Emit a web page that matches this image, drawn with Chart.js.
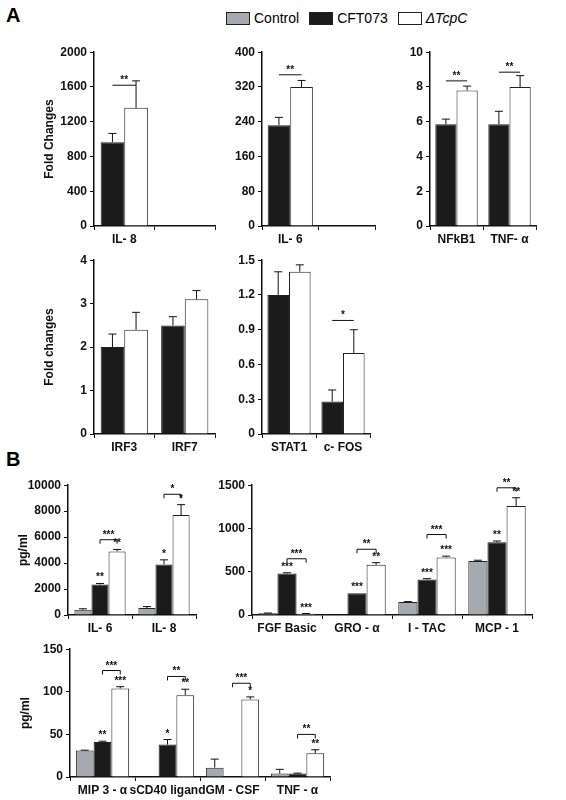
<!DOCTYPE html>
<html>
<head>
<meta charset="utf-8">
<script src="https://cdn.jsdelivr.net/npm/chart.js@4.4.0/dist/chart.umd.min.js"></script>
<style>
body { margin:0; background:#fff; font-family:"Liberation Sans", Arial, sans-serif; }
#wrap { position:relative; width:566px; height:800px; }
canvas { position:absolute; }
.big { position:absolute; font-weight:bold; font-size:20px; }
#legend { position:absolute; left:226px; top:10px; font-size:14px; display:flex; gap:10px; }
#legend span { display:inline-flex; align-items:center; }
#legend i.box { display:inline-block; width:22px; height:11px; border:1px solid #222; margin-right:4px; }
</style>
</head>
<body>
<div id="wrap">
  <div class="big" style="left:6px;top:4px">A</div>
  <div class="big" style="left:6px;top:448px">B</div>
  <div id="legend"></div>
</div>
<script>
// series names
const seriesNames = ['Control', 'CFT073', 'ΔTcpC'];
const seriesColors = ['#a5aab1', '#1b1b1b', '#ffffff'];

// Panel A1
const a1Labels = ['IL- 8', ''];
const a1Cft = [965, null];   const a1CftErr = [100, 0];
const a1Tcp = [1360, null];  const a1TcpErr = [310, 0];
// Panel A2
const a2Labels = ['IL- 6', ''];
const a2Cft = [232, null];   const a2CftErr = [18, 0];
const a2Tcp = [320, null];   const a2TcpErr = [15, 0];
// Panel A3
const a3Labels = ['NFkB1', 'TNF- α'];
const a3Cft = [5.85, 5.85];  const a3CftErr = [0.3, 0.75];
const a3Tcp = [7.8, 8.0];    const a3TcpErr = [0.25, 0.65];
// Panel A4
const a4Labels = ['IRF3', 'IRF7'];
const a4Cft = [2.0, 2.5];    const a4CftErr = [0.3, 0.2];
const a4Tcp = [2.4, 3.1];    const a4TcpErr = [0.4, 0.2];
// Panel A5
const a5Labels = ['STAT1', 'c- FOS'];
const a5Cft = [1.2, 0.28];   const a5CftErr = [0.2, 0.1];
const a5Tcp = [1.4, 0.7];    const a5TcpErr = [0.06, 0.2];

// Panel B1
const b1Labels = ['IL- 6', 'IL- 8'];
const b1Ctl = [400, 530];    const b1CtlErr = [80, 120];
const b1Cft = [2350, 3900];  const b1CftErr = [80, 350];
const b1Tcp = [4900, 7700];  const b1TcpErr = [150, 800];
const b1CftStars = ['**', '*'];
const b1TcpStars = ['**', '*'];
// Panel B2
const b2Labels = ['FGF Basic', 'GRO - α', 'I - TAC', 'MCP - 1'];
const b2Ctl = [20, 0, 150, 625];     const b2CtlErr = [3, 0, 5, 8];
const b2Cft = [480, 250, 410, 840];  const b2CftErr = [8, 0, 10, 15];
const b2Tcp = [15, 580, 665, 1260];  const b2TcpErr = [2, 25, 15, 95];
const b2CftStars = ['***', '***', '***', '**'];
const b2TcpStars = ['***', '**', '***', '**'];
// Panel B3
const b3Labels = ['MIP 3 - α', 'sCD40 ligand', 'GM - CSF', 'TNF - α'];
const b3Ctl = [31, 0, 11, 4];    const b3CtlErr = [0.5, 0, 10, 5];
const b3Cft = [41, 38, 0, 4];    const b3CftErr = [1, 6, 0, 0.5];
const b3Tcp = [104, 96, 91, 28]; const b3TcpErr = [2, 7, 3, 4];
const b3CftStars = ['**', '*', '', ''];
const b3TcpStars = ['***', '**', '*', '**'];

// brackets: [category, fromDataset, toDataset, yValue, text]
const a1Brackets = [[0, 0, 1, 1620, '**']];
const a2Brackets = [[0, 0, 1, 348, '**']];
const a3Brackets = [[0, 0, 1, 8.35, '**'], [1, 0, 1, 8.85, '**']];
const a5Brackets = [[1, 0, 1, 0.98, '*']];
const b1Brackets = [[0, 1, 2, 5800, '***'], [1, 1, 2, 9300, '*']];
const b2Brackets = [[0, 1, 2, 650, '***'], [1, 1, 2, 760, '**'], [2, 1, 2, 930, '***'], [3, 1, 2, 1470, '**']];
const b3Brackets = [[0, 1, 2, 125, '***'], [1, 1, 2, 118, '**'], [2, 1, 2, 110, '***'], [3, 1, 2, 50, '**']];

const FONT = 'Liberation Sans';
const wrap = document.getElementById('wrap');
const leg = document.getElementById('legend');
seriesNames.forEach((n, i) => {
    const s = document.createElement('span');
    s.innerHTML = '<i class="box" style="background:' + seriesColors[i] + '"></i>' +
        (i === 2 ? '<em>' + n + '</em>' : n);
    leg.appendChild(s);
});

const errPlugin = {
    id: 'errPlugin',
    afterDatasetsDraw(chart) {
        const o = chart.options.plugins.errPlugin;
        const ctx = chart.ctx, y = chart.scales.y;
        ctx.save();
        ctx.strokeStyle = '#111';
        ctx.fillStyle = '#111';
        ctx.lineWidth = 1;
        ctx.font = 'bold 10px ' + FONT;
        ctx.textAlign = 'center';
        chart.data.datasets.forEach((ds, di) => {
            const meta = chart.getDatasetMeta(di);
            ds.data.forEach((v, j) => {
                if (v === null) return;
                const bar = meta.data[j];
                const e = o.errors[di][j] || 0;
                const top = y.getPixelForValue(v + e);
                if (e > 0) {
                    ctx.beginPath();
                    ctx.moveTo(bar.x, y.getPixelForValue(v));
                    ctx.lineTo(bar.x, top);
                    ctx.moveTo(bar.x - 4, top);
                    ctx.lineTo(bar.x + 4, top);
                    ctx.stroke();
                }
                const st = o.stars[di] && o.stars[di][j];
                if (st) ctx.fillText(st, bar.x, top - 3);
            });
        });
        o.brackets.forEach(b => {
            const x1 = chart.getDatasetMeta(b[1]).data[b[0]].x;
            const x2 = chart.getDatasetMeta(b[2]).data[b[0]].x;
            const py = y.getPixelForValue(b[3]);
            ctx.beginPath();
            if (o.ticks) { ctx.moveTo(x1, py + 4); ctx.lineTo(x1, py); ctx.lineTo(x2, py); ctx.lineTo(x2, py + 4); }
            else { ctx.moveTo(x1, py); ctx.lineTo(x2, py); }
            ctx.stroke();
            ctx.fillText(b[4], (x1 + x2) / 2, py - 2);
        });
        ctx.restore();
    }
};

function panel(p) {
    const c = document.createElement('canvas');
    c.style.left = p.left + 'px';
    c.style.top = p.top + 'px';
    c.style.width = p.width + 'px';
    c.style.height = p.height + 'px';
    c.width = p.width; c.height = p.height;
    wrap.appendChild(c);
    const colors = p.series.map(s => seriesColors[s]);
    new Chart(c, {
        type: 'bar',
        data: {
            labels: p.labels,
            datasets: p.data.map((d, i) => ({
                data: d,
                backgroundColor: colors[i],
                borderColor: '#222',
                borderWidth: 1,
                categoryPercentage: p.cat,
                barPercentage: 1
            }))
        },
        options: {
            responsive: false,
            animation: false,
            layout: { padding: { top: 6, right: 2 } },
            plugins: {
                legend: { display: false },
                tooltip: { enabled: false },
                errPlugin: { errors: p.errors, stars: p.stars || [], brackets: p.brackets || [], ticks: p.bticks }
            },
            scales: {
                x: {
                    grid: { offset: true, drawOnChartArea: false, color: '#111', tickLength: 4 },
                    border: { color: '#111', width: 1.5 },
                    ticks: { color: '#111', font: { family: FONT, size: 12, weight: 'bold' }, padding: 2, maxRotation: 0, autoSkip: false },
                    afterFit: s => { s.height = 22; }
                },
                y: {
                    min: 0, max: p.max,
                    grid: { drawOnChartArea: false, color: '#111', tickLength: 4 },
                    border: { color: '#111', width: 1.5 },
                    ticks: { stepSize: p.step, color: '#111', font: { family: FONT, size: 12, weight: 'bold' }, padding: 3,
                        callback: v => String(Math.round(v * 10) / 10) },
                    title: { display: !!p.title, text: p.title, color: '#111', font: { family: FONT, size: 12, weight: 'bold' }, padding: 2 },
                    afterFit: s => { s.width = 54; }
                }
            }
        },
        plugins: [errPlugin]
    });
}

panel({ left: 40, top: 42, width: 177, height: 206, labels: a1Labels, series: [1, 2],
    data: [a1Cft, a1Tcp], errors: [a1CftErr, a1TcpErr], brackets: a1Brackets, max: 2000, step: 400, title: 'Fold Changes', cat: 0.78 });
panel({ left: 208, top: 42, width: 169, height: 206, labels: a2Labels, series: [1, 2],
    data: [a2Cft, a2Tcp], errors: [a2CftErr, a2TcpErr], brackets: a2Brackets, max: 400, step: 80, cat: 0.8 });
panel({ left: 376, top: 42, width: 162, height: 206, labels: a3Labels, series: [1, 2],
    data: [a3Cft, a3Tcp], errors: [a3CftErr, a3TcpErr], brackets: a3Brackets, max: 10, step: 2, cat: 0.8 });
panel({ left: 40, top: 250, width: 177, height: 206, labels: a4Labels, series: [1, 2],
    data: [a4Cft, a4Tcp], errors: [a4CftErr, a4TcpErr], brackets: [], max: 4, step: 1, title: 'Fold changes', cat: 0.78 });
panel({ left: 208, top: 250, width: 164, height: 206, labels: a5Labels, series: [1, 2],
    data: [a5Cft, a5Tcp], errors: [a5CftErr, a5TcpErr], brackets: a5Brackets, max: 1.5, step: 0.3, cat: 0.8 });
panel({ left: 14, top: 475, width: 184, height: 162, labels: b1Labels, series: [0, 1, 2],
    data: [b1Ctl, b1Cft, b1Tcp], errors: [b1CtlErr, b1CftErr, b1TcpErr], stars: [[], b1CftStars, b1TcpStars],
    brackets: b1Brackets, bticks: true, max: 10000, step: 2000, title: 'pg/ml', cat: 0.8 });
panel({ left: 198, top: 475, width: 336, height: 162, labels: b2Labels, series: [0, 1, 2],
    data: [b2Ctl, b2Cft, b2Tcp], errors: [b2CtlErr, b2CftErr, b2TcpErr], stars: [[], b2CftStars, b2TcpStars],
    brackets: b2Brackets, bticks: true, max: 1500, step: 500, cat: 0.82 });
panel({ left: 16, top: 639, width: 316, height: 160, labels: b3Labels, series: [0, 1, 2],
    data: [b3Ctl, b3Cft, b3Tcp], errors: [b3CtlErr, b3CftErr, b3TcpErr], stars: [[], b3CftStars, b3TcpStars],
    brackets: b3Brackets, bticks: true, max: 150, step: 50, title: 'pg/ml', cat: 0.82 });
</script>
</body>
</html>
